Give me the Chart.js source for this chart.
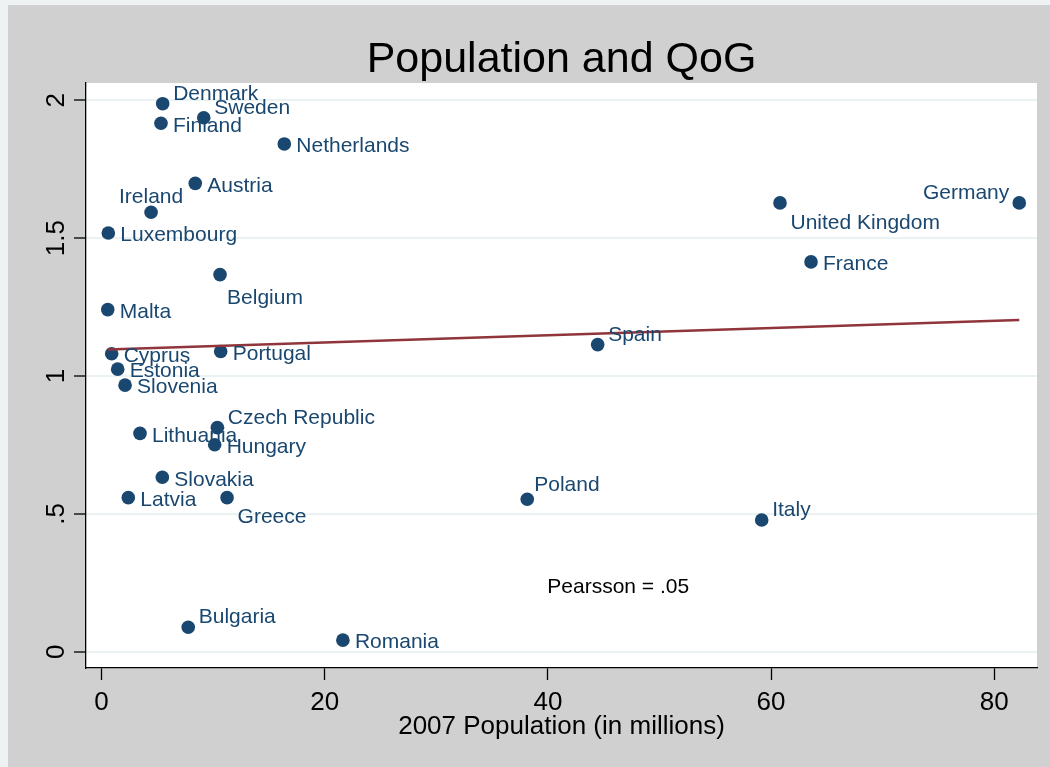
<!DOCTYPE html>
<html>
<head>
<meta charset="utf-8">
<script src="https://cdn.jsdelivr.net/npm/chart.js@4.4.0/dist/chart.umd.min.js"></script>
<style>
  body { margin: 0; background: #eef2f2; }
  canvas { display: block; }
</style>
</head>
<body>
<canvas id="qog-chart" width="1050" height="767"></canvas>
<script>
// values
const countries = ["Denmark", "Sweden", "Finland", "Netherlands", "Austria", "Ireland", "Luxembourg",
  "Germany", "United Kingdom", "France", "Belgium", "Malta", "Spain", "Cyprus", "Portugal", "Estonia",
  "Slovenia", "Czech Republic", "Lithuania", "Hungary", "Slovakia", "Latvia", "Greece", "Poland",
  "Italy", "Bulgaria", "Romania"];
const population = [5.48, 9.16, 5.33, 16.38, 8.40, 4.44, 0.61,
  82.24, 60.80, 63.58, 10.62, 0.56, 44.46, 0.91, 10.68, 1.45,
  2.11, 10.38, 3.45, 10.14, 5.45, 2.40, 11.25, 38.15,
  59.16, 7.77, 21.63];
const qog = [1.988, 1.937, 1.917, 1.842, 1.699, 1.594, 1.519,
  1.628, 1.628, 1.414, 1.368, 1.241, 1.114, 1.081, 1.089, 1.025,
  0.967, 0.813, 0.792, 0.751, 0.633, 0.559, 0.559, 0.553,
  0.478, 0.089, 0.042];
// marker label position, clock style (3 = right, 12 = above ...)
const labelClock = [2, 2, 3, 3, 3, 12, 3,
  10, 4, 3, 5, 3, 2, 3, 3, 3,
  3, 2, 3, 3, 3, 3, 4, 1,
  2, 2, 3];

const fitX = [0.56, 82.24];
const fitY = [1.096, 1.203];

const xTicks = [0, 20, 40, 60, 80];
const yTicks = [0, 0.5, 1, 1.5, 2];
const yTickLabels = ["0", ".5", "1", "1.5", "2"];

const pearsonText = "Pearsson = .05";
const pearsonAt = { x: 46.3, y: 0.238 };

const FONT = '"Liberation Sans", Arial, sans-serif';
const NAVY = "#1a476f";

const clockOffsets = {
  1: [7, -17, "left"],
  2: [10.5, -12, "left"],
  3: [12, 0, "left"],
  4: [10.5, 17.5, "left"],
  5: [7, 21, "left"],
  10: [-10, -12.5, "right"],
  12: [0, -18, "center"],
};

const stataLook = {
  id: "stataLook",
  beforeDraw(chart) {
    const { ctx, chartArea } = chart;
    ctx.save();
    ctx.fillStyle = "#eef2f2";
    ctx.fillRect(0, 0, chart.width, chart.height);
    ctx.fillStyle = "#d0d0d0";
    ctx.fillRect(8, 5, chart.width - 8, chart.height - 5);
    ctx.fillStyle = "#ffffff";
    ctx.fillRect(chartArea.left, chartArea.top, chartArea.right - chartArea.left, chartArea.bottom - chartArea.top);
    ctx.restore();
  },
  afterDatasetsDraw(chart) {
    const { ctx } = chart;
    const meta = chart.getDatasetMeta(1);
    ctx.save();
    ctx.font = "21px " + FONT;
    ctx.fillStyle = NAVY;
    ctx.textBaseline = "middle";
    meta.data.forEach((pt, i) => {
      const [dx, dy, align] = clockOffsets[labelClock[i]];
      ctx.textAlign = align;
      ctx.fillText(countries[i], pt.x + dx, pt.y + dy + 2.5);
    });
    ctx.restore();
  },
  afterDraw(chart) {
    const { ctx, chartArea, scales } = chart;
    const mid = (chartArea.left + chartArea.right) / 2;
    ctx.save();
    ctx.fillStyle = "#000";

    ctx.textAlign = "center";
    ctx.textBaseline = "alphabetic";
    ctx.font = "43px " + FONT;
    ctx.fillText("Population and QoG", mid, 72);

    ctx.font = "26px " + FONT;
    ctx.fillText("2007 Population (in millions)", mid, 734);

    xTicks.forEach(v => {
      ctx.fillText(String(v), scales.x.getPixelForValue(v), 709.5);
    });

    yTickLabels.forEach((t, i) => {
      ctx.save();
      ctx.translate(64, scales.y.getPixelForValue(yTicks[i]));
      ctx.rotate(-Math.PI / 2);
      ctx.fillText(t, 0, 0);
      ctx.restore();
    });

    ctx.font = "21px " + FONT;
    ctx.fillText(pearsonText, scales.x.getPixelForValue(pearsonAt.x), scales.y.getPixelForValue(pearsonAt.y) + 7);
    ctx.restore();
  },
};

const points = countries.map((c, i) => ({ x: population[i], y: qog[i] }));
const fitLine = fitX.map((x, i) => ({ x: x, y: fitY[i] }));

new Chart(document.getElementById("qog-chart"), {
  type: "scatter",
  data: {
    datasets: [
      {
        type: "line",
        data: fitLine,
        borderColor: "#90353b",
        borderWidth: 2.5,
        pointRadius: 0,
        fill: false,
      },
      {
        data: points,
        backgroundColor: NAVY,
        borderWidth: 0,
        pointRadius: 6.8,
        pointHoverRadius: 6.8,
      },
    ],
  },
  options: {
    responsive: false,
    animation: false,
    events: [],
    layout: { padding: { top: 83, right: 13, left: 0, bottom: 0 } },
    plugins: {
      legend: { display: false },
      tooltip: { enabled: false },
    },
    scales: {
      x: {
        type: "linear",
        min: -1.39,
        max: 83.83,
        afterBuildTicks: s => { s.ticks = xTicks.map(v => ({ value: v })); },
        afterFit: s => { s.height = 99; },
        ticks: { display: false },
        grid: { drawOnChartArea: false, drawTicks: true, tickLength: 12, tickColor: "#000", tickWidth: 1.3 },
        border: { display: true, color: "#000", width: 1.3 },
      },
      y: {
        type: "linear",
        min: -0.059,
        max: 2.063,
        afterBuildTicks: s => { s.ticks = yTicks.map(v => ({ value: v })); },
        afterFit: s => { s.width = 86; },
        ticks: { display: false },
        grid: { color: "#eaf2f3", lineWidth: 2, drawTicks: true, tickLength: 12, tickColor: "#000", tickWidth: 1.3 },
        border: { display: true, color: "#000", width: 1.3 },
      },
    },
  },
  plugins: [stataLook],
});
</script>
</body>
</html>
